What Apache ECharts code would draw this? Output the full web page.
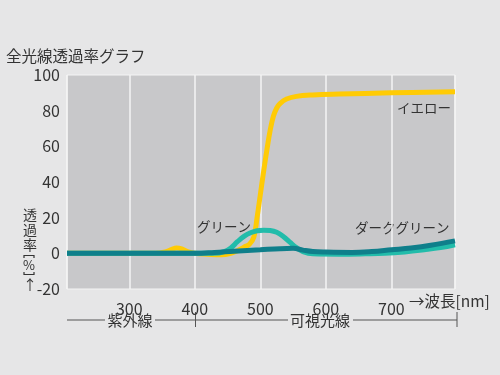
<!DOCTYPE html>
<html><head><meta charset="utf-8">
<script src="https://cdn.jsdelivr.net/npm/echarts@6/dist/echarts.min.js"></script>
<style>html,body{margin:0;padding:0;background:#e6e6e7;}#c{width:500px;height:375px;}</style>
</head><body><div id="c"></div>
<script>
// Data (wavelength nm, transmittance %)
const yellowNm  = [205, 340, 355, 365, 372, 380, 390, 400, 420, 440, 455, 465, 475, 483, 490, 495, 500, 505, 510, 515, 520, 525, 530, 540, 555, 580, 620, 700, 797];
const yellowVal = [0, 0, 0.8, 2.2, 3, 2.5, 0.8, 0, -0.5, -0.8, 0, 1.5, 3.5, 5, 9, 20, 33, 46, 58, 69, 77, 81.5, 84, 86.5, 88, 88.8, 89.3, 90, 90.6];
const greenNm   = [205, 430, 445, 455, 465, 475, 485, 495, 505, 515, 525, 535, 545, 555, 565, 580, 620, 660, 690, 720, 750, 775, 797];
const greenVal  = [0, 0, 1, 3, 6.5, 9.5, 11.5, 12.7, 13, 12.8, 11.8, 9.5, 6.3, 3.2, 1, -0.3, -0.5, -0.3, 0, 0.8, 2, 3.2, 4.8];
const dgreenNm  = [205, 400, 430, 460, 500, 530, 550, 565, 580, 600, 640, 670, 700, 730, 760, 797];
const dgreenVal = [0, 0, 0.5, 1.2, 2, 2.6, 2.8, 1.8, 1, 0.7, 0.5, 1, 2, 3, 4.5, 7];
const xTicks = [300, 400, 500, 600, 700];
const yTicks = [-20, 0, 20, 40, 60, 80, 100];
const seriesNames = ['イエロー', 'グリーン', 'ダークグリーン'];

const FONT = '"Noto Sans CJK JP", "Noto Sans", sans-serif';
const TXT = '#333333';
const pairs = (a, b) => a.map((x, i) => [x, b[i]]);

const chart = echarts.init(document.getElementById('c'), null, {renderer: 'canvas'});

const txt = (x, y, s, size, extra) => Object.assign({
  type: 'text', x: x, y: y, silent: true,
  style: Object.assign({text: s, fill: TXT, font: size + 'px ' + FONT, textVerticalAlign: 'middle', verticalAlign: 'middle'}, (extra || {}))
});
const seg = (x1, y1, x2, y2) => ({type: 'line', silent: true, shape: {x1, y1, x2, y2}, style: {stroke: '#555', lineWidth: 1}});
const poly = (pts) => ({type: 'polyline', silent: true, shape: {points: pts}, style: {stroke: TXT, lineWidth: 1.2, fill: null}});

const yName = ['透', '過', '率', '%', '↑'];
const graphics = [
  txt(6, 56, '全光線透過率グラフ', 15.5),
  txt(30, 215, yName[0], 14, {textAlign: 'center', align: 'center'}),
  txt(30, 230, yName[1], 14, {textAlign: 'center', align: 'center'}),
  txt(30, 245, yName[2], 14, {textAlign: 'center', align: 'center'}),
  poly([[24, 258], [24, 255.5], [34, 255.5], [34, 258]]),
  txt(29, 265.5, yName[3], 13, {textAlign: 'center', align: 'center'}),
  poly([[24, 272], [24, 274.5], [34, 274.5], [34, 272]]),
  txt(30, 285, yName[4], 14, {textAlign: 'center', align: 'center'}),
  txt(409, 301, '→波長[nm]', 15.5),
  seg(67, 320, 105, 320), seg(155, 320, 288, 320), seg(353, 320, 457, 320),
  seg(195.5, 312, 195.5, 327), seg(457, 312, 457, 327),
  txt(130, 320, '紫外線', 15, {textAlign: 'center', align: 'center'}),
  txt(320, 320, '可視光線', 15, {textAlign: 'center', align: 'center'}),
  txt(397, 108, seriesNames[0], 13.5),
  txt(197, 227, seriesNames[1], 13.5),
  txt(355, 228, seriesNames[2], 13.5)
];

chart.setOption({
  animation: false,
  backgroundColor: '#e6e6e7',
  grid: {left: 67, top: 75, right: 45, bottom: 86, show: true, backgroundColor: '#c8c8ca', borderColor: '#f4f4f4', borderWidth: 1},
  xAxis: {
    type: 'value', min: 205, max: 797, splitNumber: 5,
    axisLine: {show: false}, axisTick: {show: false},
    axisLabel: {color: TXT, fontSize: 16, fontFamily: FONT, margin: 12,
      formatter: v => xTicks.indexOf(Math.round(v)) >= 0 && Math.abs(v - Math.round(v)) < 1e-6 ? String(v) : ''},
    splitLine: {show: true, lineStyle: {color: '#f4f4f4', width: 1.5}}
  },
  yAxis: {
    type: 'value', min: yTicks[0], max: yTicks[yTicks.length - 1], interval: 20,
    axisLine: {show: false}, axisTick: {show: false}, splitLine: {show: false},
    axisLabel: {color: TXT, fontSize: 16, fontFamily: FONT, margin: 7}
  },
  series: [
    {name: seriesNames[0], type: 'line', data: pairs(yellowNm, yellowVal), smooth: 0.4, showSymbol: false,
     lineStyle: {color: '#ffcb05', width: 5}, z: 2},
    {name: seriesNames[1], type: 'line', data: pairs(greenNm, greenVal), smooth: 0.4, showSymbol: false,
     lineStyle: {color: '#22bcaa', width: 5}, z: 3},
    {name: seriesNames[2], type: 'line', data: pairs(dgreenNm, dgreenVal), smooth: 0.4, showSymbol: false,
     lineStyle: {color: '#0f7f8b', width: 5}, z: 4}
  ],
  graphic: graphics
});
</script></body></html>
